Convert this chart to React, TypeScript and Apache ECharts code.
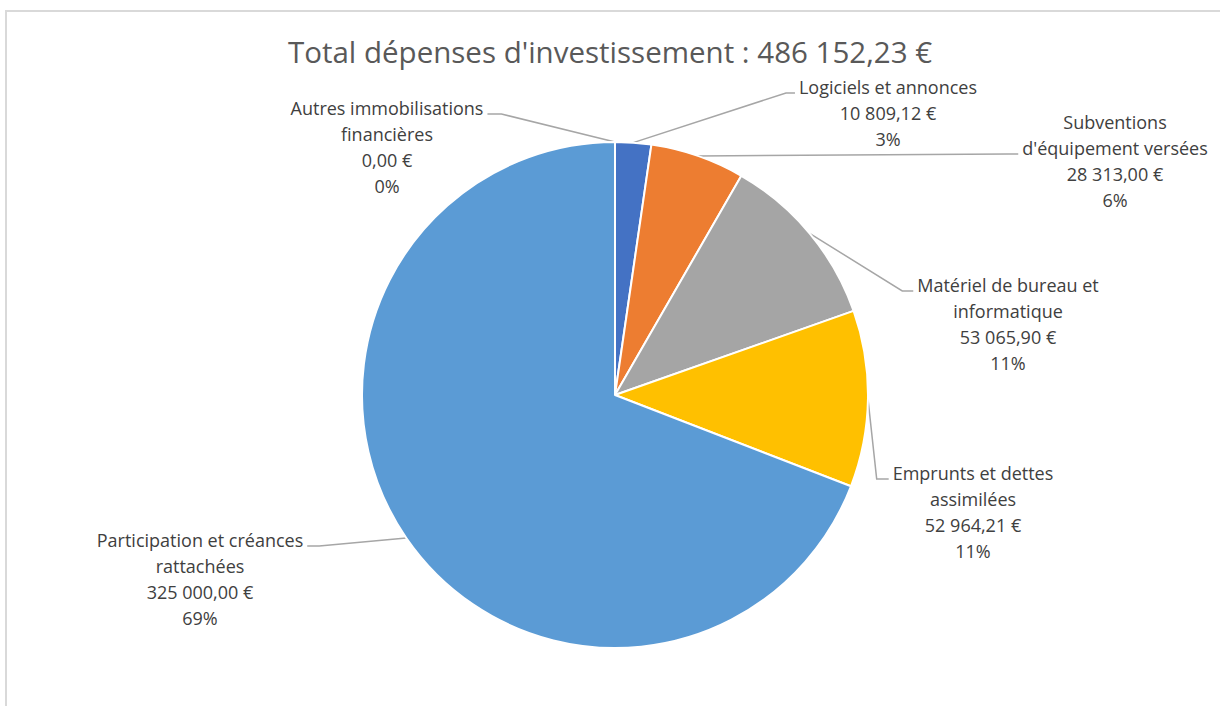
import React, { useEffect, useRef } from "react";
import * as echarts from "echarts";

// ---- Data ----
const titleText = "Total dépenses d'investissement : 486 152,23 €";
const categories = [
  "Autres immobilisations\nfinancières",
  "Logiciels et annonces",
  "Subventions\nd'équipement versées",
  "Matériel de bureau et\ninformatique",
  "Emprunts et dettes\nassimilées",
  "Participation et créances\nrattachées",
];
const values = [0, 10809.12, 28313.0, 53065.9, 52964.21, 325000.0];
const percentLabels = ["0%", "3%", "6%", "11%", "11%", "69%"];
const sliceColors = ["#5B9BD5", "#4472C4", "#ED7D31", "#A5A5A5", "#FFC000", "#5B9BD5"];

// ---- Label layout (annotation placement: text-block centre x, first-line centre y) ----
const LINE_H = 26;
const labelPlacement: [number, number][] = [
  [387, 108],
  [888, 87],
  [1115, 122],
  [1008, 285],
  [973, 473],
  [200, 540],
];
const anchorLine = [0, 0, 1, 0, 0, 0];
const stubLen = [14, 9, 10, 11, 12, 12];

function formatEuro(v: number): string {
  const [intPart, dec] = v.toFixed(2).split(".");
  const grouped = intPart.replace(/\B(?=(\d{3})+(?!\d))/g, " ");
  return grouped + "," + dec + " €";
}

export default function App() {
  const ref = useRef<HTMLDivElement>(null);
  useEffect(() => {
    if (!ref.current) return;
    const chart = echarts.init(ref.current, undefined, { renderer: "svg" });
    const data = categories.map((name, i) => ({
      name,
      value: values[i],
      itemStyle: { color: sliceColors[i] },
    }));
    chart.setOption({
      animation: false,
      backgroundColor: "#ffffff",
      title: {
        text: titleText,
        left: "center",
        top: 31,
        textStyle: {
          fontFamily: "Open Sans",
          fontSize: 29.5,
          fontWeight: "normal",
          color: "#595959",
        },
      },
      graphic: [
        {
          type: "rect",
          shape: { x: 6, y: 11, width: 1400, height: 900 },
          style: { fill: "none", stroke: "#d9d9d9", lineWidth: 2 },
          silent: true,
        },
      ],
      series: [
        {
          type: "pie",
          center: [615, 395],
          radius: 253,
          startAngle: 90,
          clockwise: true,
          avoidLabelOverlap: false,
          minShowLabelAngle: 0,
          itemStyle: { borderColor: "#ffffff", borderWidth: 2 },
          label: {
            show: true,
            position: "outside",
            fontFamily: "Open Sans",
            fontSize: 18,
            color: "#404040",
            lineHeight: LINE_H,
            formatter: (p: any) =>
              `${p.name}\n${formatEuro(values[p.dataIndex])}\n${percentLabels[p.dataIndex]}`,
          },
          labelLine: {
            show: true,
            length: 20,
            length2: 10,
            lineStyle: { color: "#a6a6a6", width: 1.5 },
          },
          emphasis: { disabled: true },
          labelLayout: (params: any) => {
            const i = params.dataIndex;
            const [cx, c0] = labelPlacement[i];
            const top = c0 - LINE_H / 2;
            const w = params.labelRect.width;
            const pts = params.labelLinePoints;
            const p0 = pts && pts[0] ? pts[0] : [615, 142];
            const onRight = cx > p0[0];
            const ax = onRight ? cx - w / 2 - 4 : cx + w / 2 + 4;
            const ay = top + anchorLine[i] * LINE_H + 19;
            const sx = onRight ? ax - stubLen[i] : ax + stubLen[i];
            return {
              x: cx,
              y: top,
              align: "center",
              verticalAlign: "top",
              labelLinePoints: [
                [p0[0], p0[1]],
                [sx, ay],
                [ax, ay],
              ],
            };
          },
          data,
        },
      ],
    });
    return () => chart.dispose();
  }, []);
  return (
    <div
      ref={ref}
      style={{ position: "absolute", left: 0, top: 0, width: 1220, height: 706 }}
    />
  );
}
